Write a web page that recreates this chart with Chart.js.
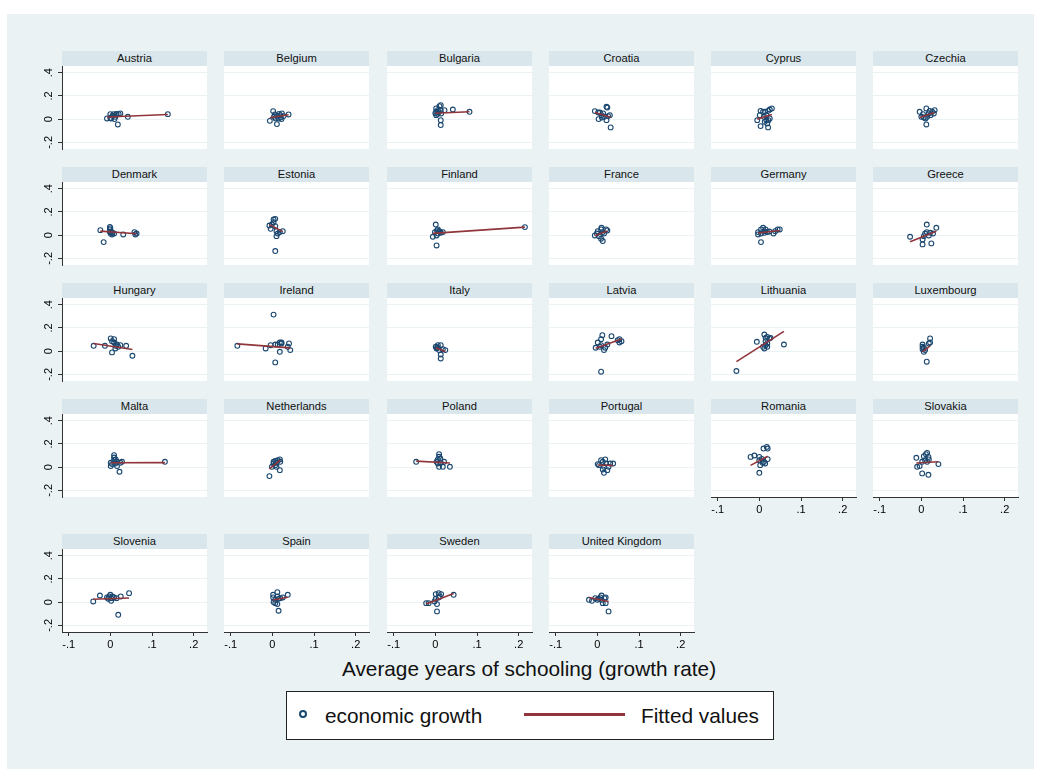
<!DOCTYPE html>
<html>
<head>
<meta charset="utf-8">
<script src="https://cdn.jsdelivr.net/npm/chart.js@4.4.1/dist/chart.umd.min.js"></script>
<style>
  html, body { margin: 0; padding: 0; background: #fff; }
  body { width: 1041px; height: 769px; position: relative; overflow: hidden;
         font-family: "Liberation Sans", Arial, sans-serif; }
  #bg { position: absolute; left: 7px; top: 14px; width: 1027px; height: 755px; background: #eaf2f3; }
  .strip { position: absolute; height: 15px; line-height: 15px; background: #d9e6eb;
           text-align: center; font-size: 11.2px; color: #111; white-space: nowrap; }
  canvas.panel { position: absolute; }
  .big { position: absolute; font-size: 20.8px; line-height: 20.8px; color: #111; white-space: nowrap; }
  #legend { position: absolute; left: 286px; top: 691px; width: 488px; height: 49px;
            box-sizing: border-box; border: 1px solid #222; background: #fff; }
</style>
</head>
<body>
<div id="bg"></div>
<div class="big" style="left:329px; width:400px; text-align:center; top:659px;">Average years of schooling (growth rate)</div>
<div id="legend"></div>
<div style="position:absolute; left:299px; top:710px; width:8px; height:8px; box-sizing:border-box; border:2px solid #1a476f; border-radius:50%;"></div>
<div class="big" style="left:325px; top:706px;">economic growth</div>
<div style="position:absolute; left:524px; top:713px; width:101px; height:3px; background:#90353b;"></div>
<div class="big" style="left:641px; top:706px;">Fitted values</div>

<script>
// Panels, in the order Stata lays them out
const countries = ['Austria', 'Belgium', 'Bulgaria', 'Croatia', 'Cyprus', 'Czechia',
  'Denmark', 'Estonia', 'Finland', 'France', 'Germany', 'Greece',
  'Hungary', 'Ireland', 'Italy', 'Latvia', 'Lithuania', 'Luxembourg',
  'Malta', 'Netherlands', 'Poland', 'Portugal', 'Romania', 'Slovakia',
  'Slovenia', 'Spain', 'Sweden', 'United Kingdom'];

// Tick values and labels
const xTicks = [-0.1, 0, 0.1, 0.2];
const xTickLabels = ['-.1', '0', '.1', '.2'];
const yTicks = [-0.2, 0, 0.2, 0.4];
const yTickLabels = ['-.2', '0', '.2', '.4'];

// schooling growth (x) / economic growth (y)
const austriaX = [-0.008, 0.000, 0.002, 0.008, 0.010, 0.014, 0.020, 0.024, 0.018, 0.042, 0.138, 0.005, 0.012, 0.000, 0.015];
const austriaY = [0.006, 0.043, 0.006, 0.043, 0.000, 0.040, 0.043, 0.049, -0.046, 0.020, 0.043, 0.030, 0.020, 0.010, 0.045];
const belgiumX = [-0.006, 0.002, 0.006, 0.011, 0.011, 0.015, 0.019, 0.022, 0.023, 0.027, 0.039, 0.008, 0.004, 0.016, 0.020];
const belgiumY = [-0.015, 0.069, 0.040, 0.028, -0.043, 0.006, 0.034, 0.000, 0.049, 0.026, 0.040, 0.006, 0.020, 0.045, 0.015];
const bulgariaX = [0.002, 0.002, 0.002, 0.006, 0.010, 0.013, 0.013, 0.014, 0.013, 0.013, 0.022, 0.042, 0.082, 0.000, 0.005, 0.008];
const bulgariaY = [0.092, 0.063, 0.034, 0.077, 0.111, 0.120, 0.077, 0.049, -0.009, -0.051, 0.077, 0.083, 0.063, 0.050, 0.045, 0.060];
const croatiaX = [-0.006, 0.002, 0.006, 0.010, 0.014, 0.022, 0.024, 0.030, 0.003, 0.011, 0.022, 0.032, 0.016, 0.026];
const croatiaY = [0.069, 0.057, 0.057, 0.034, 0.049, 0.106, 0.100, 0.034, 0.000, 0.014, -0.009, -0.071, 0.020, 0.026];
const cyprusX = [-0.005, 0.001, 0.003, 0.003, 0.009, 0.011, 0.013, 0.014, 0.017, 0.019, 0.021, 0.021, 0.025, 0.025, 0.030, 0.017, 0.022];
const cyprusY = [-0.009, 0.034, 0.071, -0.060, 0.063, 0.020, -0.023, 0.063, 0.034, -0.037, -0.071, 0.071, 0.083, 0.006, 0.092, -0.009, -0.009];
const czechiaX = [-0.004, 0.000, 0.004, 0.006, 0.012, 0.012, 0.014, 0.018, 0.020, 0.022, 0.026, 0.030, 0.032, 0.010];
const czechiaY = [0.063, 0.020, 0.043, 0.014, 0.092, -0.046, 0.020, 0.049, 0.071, 0.034, 0.063, 0.049, 0.077, 0.006];
const denmarkX = [-0.024, -0.016, -0.001, -0.001, -0.001, 0.001, 0.004, 0.009, 0.031, 0.058, 0.060, 0.063, 0.000, 0.002, 0.005];
const denmarkY = [0.043, -0.060, 0.071, 0.049, 0.026, 0.014, 0.006, 0.014, 0.006, 0.026, 0.006, 0.014, 0.060, 0.030, 0.020];
const estoniaX = [-0.004, -0.001, 0.003, 0.003, 0.007, 0.007, 0.010, 0.010, 0.013, 0.018, 0.025, 0.007, -0.007];
const estoniaY = [0.054, 0.091, 0.134, 0.111, 0.140, 0.077, 0.034, -0.009, 0.014, 0.026, 0.034, -0.137, 0.083];
const finlandX = [-0.006, -0.001, 0.001, 0.003, 0.006, 0.006, 0.009, 0.013, 0.018, 0.003, 0.215, 0.004, 0.011];
const finlandY = [-0.014, 0.026, 0.091, -0.089, 0.049, 0.014, 0.034, 0.020, 0.026, -0.003, 0.069, 0.040, 0.030];
const franceX = [-0.006, -0.001, 0.001, 0.004, 0.009, 0.009, 0.013, 0.013, 0.016, 0.021, 0.024, 0.010];
const franceY = [-0.003, 0.014, 0.034, -0.009, 0.049, -0.031, 0.026, -0.051, 0.014, 0.049, 0.040, 0.063];
const germanyX = [-0.003, -0.003, 0.004, 0.004, 0.009, 0.012, 0.012, 0.015, 0.004, 0.034, 0.038, 0.044, 0.049, 0.019, 0.024];
const germanyY = [0.026, 0.006, 0.049, 0.014, 0.063, 0.034, 0.020, 0.049, -0.060, 0.014, 0.034, 0.049, 0.049, 0.026, 0.031];
const greeceX = [-0.027, 0.003, 0.003, 0.009, 0.013, 0.013, 0.018, 0.021, 0.024, 0.036, 0.028, 0.006];
const greeceY = [-0.014, -0.080, -0.037, 0.014, 0.091, 0.026, -0.003, 0.020, -0.071, 0.063, 0.014, -0.009];
const hungaryX = [-0.040, -0.013, 0.001, 0.004, 0.009, 0.004, 0.012, 0.016, 0.019, 0.024, 0.038, 0.053, 0.009, 0.013];
const hungaryY = [0.046, 0.046, 0.109, 0.086, 0.103, -0.011, 0.023, 0.057, 0.037, 0.051, 0.046, -0.040, 0.074, 0.046];
const irelandX = [-0.084, -0.016, 0.003, 0.007, 0.007, 0.013, 0.018, 0.018, 0.022, 0.022, 0.037, 0.040, 0.043, -0.004];
const irelandY = [0.046, 0.023, 0.314, -0.097, 0.057, 0.057, -0.006, 0.074, 0.066, 0.074, 0.037, 0.066, 0.009, 0.051];
const italyX = [0.001, 0.003, 0.006, 0.009, 0.013, 0.013, 0.013, 0.018, 0.024, 0.006];
const italyY = [0.037, 0.023, 0.051, 0.009, 0.051, -0.029, -0.063, 0.017, 0.009, 0.029];
const latviaX = [-0.004, 0.001, 0.009, 0.009, 0.012, 0.016, 0.019, 0.024, 0.034, 0.049, 0.053, 0.058, 0.053, 0.009, 0.006];
const latviaY = [0.029, 0.074, 0.051, 0.103, 0.137, 0.009, 0.029, 0.057, 0.129, 0.094, 0.103, 0.086, 0.074, -0.177, 0.037];
const lithuaniaX = [-0.055, -0.006, 0.012, 0.015, 0.015, 0.019, 0.019, 0.024, 0.027, 0.012, 0.015, 0.019, 0.059, 0.009];
const lithuaniaY = [-0.171, 0.080, 0.143, 0.114, 0.086, 0.123, 0.066, 0.109, 0.114, 0.023, 0.051, 0.037, 0.057, 0.037];
const luxembourgX = [0.003, 0.003, 0.003, 0.006, 0.009, 0.013, 0.018, 0.021, 0.021, 0.006];
const luxembourgY = [0.057, 0.037, 0.017, -0.006, 0.009, -0.091, 0.066, 0.109, 0.074, 0.029];
const maltaX = [0.001, 0.001, 0.009, 0.009, 0.009, 0.012, 0.016, 0.016, 0.024, 0.028, 0.022, 0.131, 0.004, 0.013];
const maltaY = [0.037, 0.009, 0.103, 0.083, 0.060, 0.031, 0.046, 0.009, 0.037, 0.046, -0.040, 0.046, 0.026, 0.066];
const netherlandsX = [-0.007, -0.001, 0.003, 0.003, 0.007, 0.010, 0.013, 0.018, 0.018, 0.007, 0.010, 0.019];
const netherlandsY = [-0.077, 0.003, 0.031, 0.046, 0.054, 0.037, 0.060, 0.066, -0.026, 0.017, 0.003, 0.046];
const polandX = [-0.046, 0.003, 0.006, 0.009, 0.009, 0.012, 0.013, 0.009, 0.018, 0.035, 0.021, 0.006];
const polandY = [0.046, 0.046, 0.066, 0.089, 0.111, 0.074, 0.037, 0.003, 0.003, 0.003, 0.046, 0.031];
const portugalX = [0.001, 0.009, 0.013, 0.016, 0.016, 0.021, 0.024, 0.027, 0.031, 0.038, 0.013, 0.004, 0.019];
const portugalY = [0.026, 0.060, 0.046, 0.003, -0.049, 0.031, -0.026, 0.003, 0.031, 0.031, -0.020, 0.017, 0.066];
const romaniaX = [-0.021, -0.012, 0.000, 0.000, 0.002, 0.000, 0.006, 0.008, 0.011, 0.010, 0.018, 0.020, 0.020, 0.014];
const romaniaY = [0.088, 0.100, 0.088, 0.060, 0.017, -0.049, 0.071, 0.037, 0.046, 0.160, 0.174, 0.160, 0.069, 0.031];
const slovakiaX = [-0.012, -0.010, -0.004, 0.002, 0.017, 0.006, 0.011, 0.014, 0.017, 0.009, 0.002, 0.014, 0.041, 0.018];
const slovakiaY = [0.080, 0.003, 0.009, -0.054, -0.066, 0.094, 0.111, 0.123, 0.088, 0.060, 0.046, 0.046, 0.026, 0.066];
const sloveniaX = [-0.041, -0.025, -0.008, -0.003, 0.000, 0.002, 0.002, 0.005, 0.009, 0.015, 0.019, 0.025, 0.045, -0.005];
const sloveniaY = [0.006, 0.057, 0.040, 0.049, 0.063, 0.034, 0.011, 0.049, 0.040, 0.034, -0.109, 0.049, 0.077, 0.029];
const spainX = [0.002, 0.002, 0.003, 0.007, 0.012, 0.012, 0.012, 0.015, 0.015, 0.019, 0.025, 0.037, 0.007];
const spainY = [0.063, 0.040, 0.000, -0.009, 0.086, 0.049, -0.017, -0.074, 0.029, 0.034, 0.040, 0.063, 0.020];
const swedenX = [-0.022, -0.016, 0.001, 0.001, 0.004, 0.004, 0.008, 0.008, 0.011, 0.014, 0.044, -0.002];
const swedenY = [-0.009, -0.009, 0.069, 0.029, -0.017, -0.080, 0.077, 0.040, 0.049, 0.069, 0.063, 0.006];
const ukX = [-0.020, -0.013, -0.005, 0.000, 0.007, 0.010, 0.010, 0.013, 0.017, 0.020, 0.020, 0.027, 0.003];
const ukY = [0.020, 0.011, 0.034, 0.020, 0.040, 0.057, 0.020, -0.009, 0.034, 0.040, -0.009, -0.080, 0.029];

// Fitted line end points per country (same order as countries)
const fitX0 = [-0.008, -0.006, 0.000, -0.006, -0.005, -0.004, -0.024, -0.007, -0.006, -0.006, -0.003, -0.027, -0.040, -0.084,
  0.001, -0.004, -0.055, 0.003, 0.001, -0.007, -0.046, 0.001, -0.021, -0.012, -0.041, 0.002, -0.022, -0.020];
const fitY0 = [0.018, 0.012, 0.050, 0.057, 0.000, 0.014, 0.034, 0.090, 0.015, -0.005, 0.018, -0.057, 0.066, 0.062,
  0.030, 0.025, -0.090, -0.005, 0.037, -0.015, 0.052, 0.018, 0.015, 0.036, 0.025, 0.018, -0.016, 0.040];
const fitX1 = [0.138, 0.039, 0.082, 0.032, 0.030, 0.032, 0.063, 0.025, 0.215, 0.024, 0.049, 0.036, 0.053, 0.043,
  0.024, 0.058, 0.059, 0.021, 0.131, 0.019, 0.035, 0.038, 0.020, 0.041, 0.045, 0.037, 0.044, 0.027];
const fitY1 = [0.040, 0.038, 0.063, 0.016, 0.040, 0.057, 0.012, 0.030, 0.069, 0.036, 0.040, 0.034, 0.014, 0.028,
  -0.004, 0.105, 0.170, 0.046, 0.039, 0.060, 0.036, 0.014, 0.094, 0.046, 0.035, 0.042, 0.074, 0.005];

const schooling = [austriaX, belgiumX, bulgariaX, croatiaX, cyprusX, czechiaX, denmarkX, estoniaX, finlandX, franceX,
  germanyX, greeceX, hungaryX, irelandX, italyX, latviaX, lithuaniaX, luxembourgX, maltaX, netherlandsX, polandX,
  portugalX, romaniaX, slovakiaX, sloveniaX, spainX, swedenX, ukX];
const growth = [austriaY, belgiumY, bulgariaY, croatiaY, cyprusY, czechiaY, denmarkY, estoniaY, finlandY, franceY,
  germanyY, greeceY, hungaryY, irelandY, italyY, latviaY, lithuaniaY, luxembourgY, maltaY, netherlandsY, polandY,
  portugalY, romaniaY, slovakiaY, sloveniaY, spainY, swedenY, ukY];

// Layout
const colLeft = [62, 224, 387, 549, 711, 873];
const rowTop = [51, 167, 283, 399, 534];
const STRIP_H = 15, PLOT_W = 145, PLOT_H = 83;
const Y_AXIS_W = 30, X_AXIS_H = 26, PAD = 14;
const X_MIN = -0.116, X_MAX = 0.232, Y_MIN = -0.257, Y_MAX = 0.457;
const NAVY = '#1a476f', MAROON = '#90353b', GRID = '#eaf2f3', AXIS = '#333';

Chart.defaults.font.family = '"Liberation Sans", Arial, sans-serif';
Chart.defaults.font.size = 11;
Chart.defaults.color = '#000';

const plotBg = {
  id: 'plotBg',
  beforeDraw(chart) {
    const { ctx, chartArea: a } = chart;
    ctx.save();
    ctx.fillStyle = '#fff';
    ctx.fillRect(a.left, a.top, a.width, a.height);
    ctx.restore();
  }
};

function makePanel(i) {
  const r = Math.floor(i / 6), c = i % 6;
  const showY = c === 0;
  const showX = i + 6 >= countries.length;
  const yw = showY ? Y_AXIS_W : 0;
  const xh = showX ? X_AXIS_H : 0;

  const strip = document.createElement('div');
  strip.className = 'strip';
  strip.style.left = colLeft[c] + 'px';
  strip.style.top = rowTop[r] + 'px';
  strip.style.width = PLOT_W + 'px';
  strip.textContent = countries[i];
  document.body.appendChild(strip);

  const canvas = document.createElement('canvas');
  canvas.className = 'panel';
  const w = PAD * 2 + yw + PLOT_W, h = PAD * 2 + PLOT_H + xh;
  canvas.width = w; canvas.height = h;
  canvas.style.width = w + 'px'; canvas.style.height = h + 'px';
  canvas.style.left = (colLeft[c] - yw - PAD) + 'px';
  canvas.style.top = (rowTop[r] + STRIP_H - PAD) + 'px';
  document.body.appendChild(canvas);

  const pts = schooling[i].map((x, k) => ({ x: x, y: growth[i][k] }));

  new Chart(canvas, {
    type: 'scatter',
    data: {
      datasets: [{
        label: 'economic growth',
        data: pts,
        pointStyle: 'circle',
        pointRadius: 2.4,
        borderWidth: 1.1,
        borderColor: NAVY,
        backgroundColor: 'rgba(0,0,0,0)',
        order: 2
      }, {
        label: 'Fitted values',
        data: [{ x: fitX0[i], y: fitY0[i] }, { x: fitX1[i], y: fitY1[i] }],
        showLine: true,
        pointRadius: 0,
        borderColor: MAROON,
        borderWidth: 1.6,
        order: 1
      }]
    },
    options: {
      responsive: false,
      animation: false,
      events: [],
      layout: { padding: PAD },
      plugins: { legend: { display: false }, tooltip: { enabled: false } },
      scales: {
        x: {
          type: 'linear', min: X_MIN, max: X_MAX, display: showX,
          afterBuildTicks: s => { s.ticks = xTicks.map(v => ({ value: v })); },
          afterFit: s => { s.height = xh; },
          grid: { drawOnChartArea: false, drawTicks: true, tickLength: 4, tickColor: AXIS, color: AXIS },
          border: { display: true, color: AXIS, width: 1 },
          ticks: { callback: (v, k) => xTickLabels[k], autoSkip: false, minRotation: 0, maxRotation: 0, padding: 2 }
        },
        y: {
          type: 'linear', min: Y_MIN, max: Y_MAX,
          afterBuildTicks: s => { s.ticks = yTicks.map(v => ({ value: v })); },
          afterFit: s => { s.width = yw; },
          grid: { color: GRID, lineWidth: 1, drawTicks: showY, tickLength: 4, tickColor: AXIS },
          border: { display: showY, color: AXIS, width: 1 },
          ticks: { display: showY, callback: (v, k) => yTickLabels[k], minRotation: 90, maxRotation: 90,
                   crossAlign: 'center', padding: 2.5, autoSkip: false }
        }
      }
    },
    plugins: [plotBg]
  });
}

countries.forEach((name, i) => makePanel(i));
</script>
</body>
</html>
